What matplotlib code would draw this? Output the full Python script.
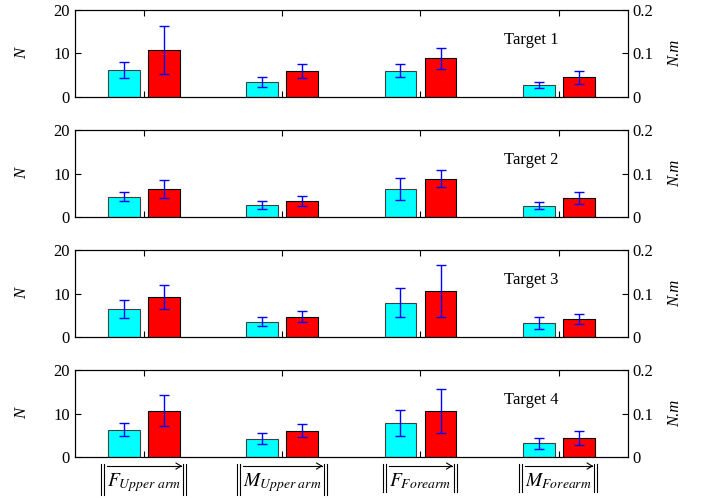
import numpy as np
import matplotlib
matplotlib.use('Agg')
import matplotlib.pyplot as plt

plt.rcParams['font.family'] = ['Liberation Serif', 'DejaVu Serif']
plt.rcParams['mathtext.fontset'] = 'stix'
plt.rcParams['xtick.direction'] = 'in'
plt.rcParams['ytick.direction'] = 'in'

# Data (left axis in N; right axis N.m = N / 100)
# tick labels get the norm bars and vector arrow drawn around them below
categories = [r'$F_{Upper\ arm}$',
              r'$M_{Upper\ arm}$',
              r'$F_{Forearm}$',
              r'$M_{Forearm}$']
targets = ['Target 1', 'Target 2', 'Target 3', 'Target 4']

cyan_vals = [[6.2, 3.5, 6.05, 2.75],
             [4.7, 2.85, 6.45, 2.6],
             [6.4, 3.55, 7.9, 3.3],
             [6.3, 4.25, 7.95, 3.15]]
cyan_err = [[1.9, 1.2, 1.5, 0.75],
            [1.1, 0.9, 2.6, 0.75],
            [2.1, 1.05, 3.35, 1.35],
            [1.5, 1.3, 3.0, 1.3]]
red_vals = [[10.8, 6.0, 8.9, 4.5],
            [6.4, 3.7, 8.85, 4.4],
            [9.2, 4.7, 10.6, 4.25],
            [10.7, 6.1, 10.7, 4.45]]
red_err = [[5.6, 1.6, 2.4, 1.45],
           [2.1, 1.2, 2.05, 1.4],
           [2.8, 1.3, 6.0, 1.15],
           [3.55, 1.5, 5.05, 1.55]]

x = np.arange(1, 5)
width = 0.23
offset = 0.145

fig, axes = plt.subplots(4, 1, figsize=(7.07, 4.98), dpi=100)
fig.subplots_adjust(left=0.106, right=0.888, top=0.980, bottom=0.082, hspace=0.38)

for i, ax in enumerate(axes):
    ax.bar(x - offset, cyan_vals[i], width, color='cyan', edgecolor='#404040', linewidth=0.8, zorder=2)
    ax.bar(x + offset, red_vals[i], width, color='red', edgecolor='black', linewidth=0.8, zorder=2)
    ax.errorbar(x - offset, cyan_vals[i], yerr=cyan_err[i], fmt='none', ecolor='blue',
                elinewidth=1.0, capsize=3.5, capthick=1.0, zorder=3)
    ax.errorbar(x + offset, red_vals[i], yerr=red_err[i], fmt='none', ecolor='blue',
                elinewidth=1.0, capsize=3.5, capthick=1.0, zorder=3)
    ax.set_xlim(0.5, 4.5)
    ax.set_ylim(0, 20)
    ax.set_yticks([0, 10, 20])
    ax.set_xticks(x)
    ax.tick_params(axis='x', top=True, bottom=True, length=4)
    ax.tick_params(axis='y', length=4, labelsize=12)
    ax.set_ylabel('N', fontsize=12, style='italic', labelpad=17)
    ax.text(0.826, 0.655, targets[i], transform=ax.transAxes, fontsize=12,
            ha='center', va='center')
    if i < 3:
        ax.set_xticklabels([])
    else:
        ax.set_xticklabels(categories, fontsize=14)
        ax.tick_params(axis='x', pad=10)

    ax2 = ax.twinx()
    ax2.set_ylim(0, 0.2)
    ax2.set_yticks([0, 0.1, 0.2])
    ax2.set_yticklabels(['0', '0.1', '0.2'])
    ax2.tick_params(axis='y', length=4, labelsize=12)
    ax2.set_ylabel('N.m', fontsize=12, style='italic', labelpad=10)

# norm bars and vector arrows around the bottom tick labels (pixel coords)
fig.canvas.draw()
def seg(xs, ys):
    fig.add_artist(plt.Line2D(xs, ys, transform=None, color='black', linewidth=0.8))

for lab in axes[-1].get_xticklabels():
    bb = lab.get_window_extent()
    ylo, yhi = bb.y0 - 1, bb.y1 + 7
    for xb in (bb.x0 - 6, bb.x0 - 3, bb.x1 + 2, bb.x1 + 5):
        seg([xb, xb], [ylo, yhi])
    ya = bb.y1 + 5
    seg([bb.x0, bb.x1], [ya, ya])
    seg([bb.x1 - 5, bb.x1], [ya + 3, ya])
    seg([bb.x1 - 5, bb.x1], [ya - 3, ya])

plt.savefig('out.png', dpi=100)
